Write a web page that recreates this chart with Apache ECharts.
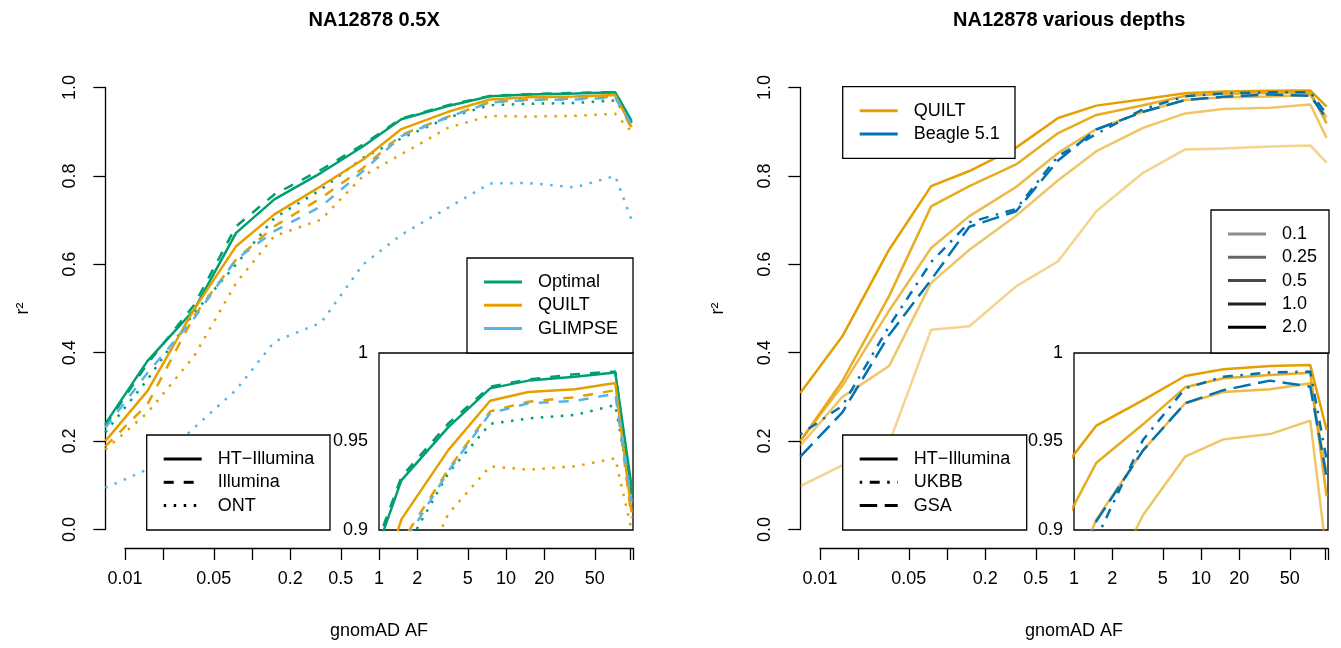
<!DOCTYPE html>
<html>
<head>
<meta charset="utf-8">
<title>NA12878 imputation accuracy</title>
<script src="https://cdn.jsdelivr.net/npm/echarts@6/dist/echarts.min.js"></script>
<style>
    html, body { margin: 0; padding: 0; background: #fff; }
    #main { width: 1341px; height: 648px; }
</style>
</head>
<body>
<div id="main"></div>
<script>
// AF bin midpoints (%), same bins in both panels
var afMid = [0.007, 0.015, 0.035, 0.075, 0.15, 0.35, 0.75, 1.5, 3.5, 7.5, 15, 35, 72.5, 97.5];
var afTicks = [0.01, 0.02, 0.05, 0.1, 0.2, 0.5, 1, 2, 5, 10, 20, 50, 95, 100];
var afLabels = [0.01, 0.05, 0.2, 0.5, 1, 2, 5, 10, 20, 50];

// left panel: NA12878 0.5X
var optimalHT       = [0.239, 0.381, 0.497, 0.671, 0.747, 0.807, 0.867, 0.928, 0.958, 0.980, 0.9844, 0.9866, 0.989, 0.9245];
var optimalIllumina = [0.235, 0.375, 0.508, 0.686, 0.758, 0.814, 0.871, 0.930, 0.960, 0.981, 0.985, 0.988, 0.9895, 0.920];
var optimalONT      = [0.220, 0.339, 0.490, 0.600, 0.705, 0.769, 0.841, 0.885, 0.932, 0.960, 0.963, 0.965, 0.9706, 0.920];
var quiltHT         = [0.200, 0.313, 0.498, 0.641, 0.713, 0.777, 0.837, 0.906, 0.945, 0.973, 0.978, 0.9795, 0.983, 0.910];
var quiltIllumina   = [0.188, 0.283, 0.483, 0.611, 0.686, 0.750, 0.818, 0.893, 0.934, 0.967, 0.9725, 0.975, 0.979, 0.907];
var quiltONT        = [0.181, 0.264, 0.392, 0.558, 0.664, 0.701, 0.800, 0.849, 0.909, 0.936, 0.934, 0.936, 0.9405, 0.900];
var glimpseIllumina = [0.230, 0.354, 0.478, 0.611, 0.675, 0.731, 0.811, 0.890, 0.933, 0.966, 0.9716, 0.973, 0.977, 0.916];
var glimpseONT      = [0.094, 0.136, 0.230, 0.316, 0.425, 0.468, 0.600, 0.667, 0.728, 0.783, 0.784, 0.774, 0.800, 0.700];

// right panel: QUILT HT-Illumina at each depth, Beagle 5.1 on arrays
var quiltD01  = [0.098, 0.145, 0.195, 0.452, 0.460, 0.550, 0.607, 0.720, 0.807, 0.860, 0.862, 0.8665, 0.869, 0.830];
var quiltD025 = [0.190, 0.300, 0.370, 0.558, 0.633, 0.710, 0.790, 0.856, 0.9085, 0.9414, 0.9512, 0.9542, 0.9618, 0.886];
var quiltD05  = [0.200, 0.325, 0.495, 0.637, 0.709, 0.775, 0.852, 0.906, 0.945, 0.9716, 0.978, 0.9795, 0.9829, 0.932];
var quiltD1   = [0.200, 0.336, 0.528, 0.731, 0.777, 0.826, 0.897, 0.938, 0.9597, 0.9806, 0.9857, 0.9876, 0.9889, 0.919];
var quiltD2   = [0.309, 0.437, 0.633, 0.777, 0.811, 0.864, 0.931, 0.959, 0.9734, 0.987, 0.9908, 0.9927, 0.9932, 0.9565];
var beagleUKBB = [0.215, 0.280, 0.460, 0.605, 0.695, 0.725, 0.845, 0.895, 0.951, 0.980, 0.9866, 0.989, 0.9895, 0.940];
var beagleGSA  = [0.165, 0.265, 0.440, 0.565, 0.685, 0.720, 0.835, 0.905, 0.945, 0.9716, 0.979, 0.9844, 0.981, 0.930];

var methodNames = ['Optimal', 'QUILT', 'GLIMPSE'];
var platformNames = ['HT\u2212Illumina', 'Illumina', 'ONT'];
var methodNames2 = ['QUILT', 'Beagle 5.1'];
var platformNames2 = ['HT\u2212Illumina', 'UKBB', 'GSA'];
var depthNames = ['0.1', '0.25', '0.5', '1.0', '2.0'];
var titles = ['NA12878 0.5X', 'NA12878 various depths'];

var FONT = '"Liberation Sans", Arial, Helvetica, sans-serif';
var GREEN = '#009E73', ORANGE = '#E69F00', SKY = '#56B4E9', BLUE = '#0072B2';
var SOLID = 'solid', DASHED = [10, 10], DOTTED = [2.5, 7.5], DOTDASH = [2.5, 7.5, 10, 7.5], LONGDASH = [17.5, 7.5];
var depthAlpha = [0.45, 0.6, 0.72, 0.88, 1];

// layout (px): position of AF 0.01 in the left panel, px per decade
var x01 = 125, decade = 127, offsets = [0, 695];
var xMin = Math.log10(0.007), xMax = 2;
var mainTop = 87.5, mainH = 442, axisY = 548, insetTop = 353, insetH = 177;

var chart = echarts.init(document.getElementById('main'));

var grids = [], xAxes = [], yAxes = [], series = [], graphics = [];
var axisLine = { show: true, onZero: false, lineStyle: { color: '#000', width: 1.3 } };
var labelStyle = { color: '#000', fontSize: 18, fontFamily: FONT };

function withLabel(obj) {
    return Object.assign({}, labelStyle, obj);
}

offsets.forEach(function (o, p) {
    // main plot area
    grids.push({ left: o + x01 + (xMin + 2) * decade, top: mainTop, width: (xMax - xMin) * decade, height: mainH, outerBoundsMode: 'none' });
    xAxes.push({ gridIndex: 3 * p, type: 'value', min: xMin, max: xMax, show: false });
    yAxes.push({
        gridIndex: 3 * p, type: 'value', min: 0, max: 1, interval: 0.2,
        axisLine: axisLine,
        axisTick: { show: true, length: 12, lineStyle: { color: '#000', width: 1.3 } },
        axisLabel: withLabel({ rotate: 90, margin: 26, formatter: function (v) { return v.toFixed(1); } }),
        splitLine: { show: false },
        name: 'r\u00B2', nameLocation: 'middle', nameRotate: 90, nameGap: 73,
        nameTextStyle: labelStyle
    });

    // detached log x axis, R style
    grids.push({ left: o + x01, top: mainTop, width: 4 * decade, height: axisY - mainTop, outerBoundsMode: 'none' });
    xAxes.push({
        gridIndex: 3 * p + 1, type: 'value', min: -2, max: 2,
        axisLine: axisLine,
        axisTick: { show: true, length: 12, customValues: afTicks.map(Math.log10), lineStyle: { color: '#000', width: 1.3 } },
        axisLabel: withLabel({
            margin: 22, customValues: afLabels.map(Math.log10),
            formatter: function (v) { return String(Number(Math.pow(10, v).toPrecision(6))); }
        }),
        splitLine: { show: false },
        name: 'gnomAD AF', nameLocation: 'middle', nameGap: 74, nameTextStyle: labelStyle
    });
    yAxes.push({ gridIndex: 3 * p + 1, type: 'value', min: 0, max: 1, show: false });

    // inset zoom: AF 1-100, r2 0.9-1
    grids.push({
        left: o + x01 + 2 * decade, top: insetTop, width: 2 * decade, height: insetH,
        show: true, backgroundColor: '#fff', borderColor: '#000', borderWidth: 1.3, outerBoundsMode: 'none'
    });
    xAxes.push({ gridIndex: 3 * p + 2, type: 'value', min: 0, max: 2, show: false });
    yAxes.push({
        gridIndex: 3 * p + 2, type: 'value', min: 0.9, max: 1, interval: 0.05,
        axisLine: { show: false, onZero: false }, axisTick: { show: false },
        axisLabel: withLabel({ margin: 11, formatter: function (v) { return String(Number(v.toFixed(2))); } }),
        splitLine: { show: false }
    });
});

function toXY(vals) {
    return vals.map(function (v, i) { return [Math.log10(afMid[i]), v]; });
}

// each curve goes in the main plot and in the inset
function addLine(p, vals, color, dash, alpha) {
    [0, 2].forEach(function (k) {
        series.push({
            type: 'line', xAxisIndex: 3 * p + k, yAxisIndex: 3 * p + k,
            data: toXY(vals), symbol: 'none', silent: true, animation: false,
            lineStyle: { color: color, width: 2.5, type: dash, opacity: alpha == null ? 1 : alpha, cap: 'butt' }
        });
    });
}

addLine(0, optimalHT, GREEN, SOLID);
addLine(0, optimalIllumina, GREEN, DASHED);
addLine(0, optimalONT, GREEN, DOTTED);
addLine(0, quiltHT, ORANGE, SOLID);
addLine(0, quiltIllumina, ORANGE, DASHED);
addLine(0, quiltONT, ORANGE, DOTTED);
addLine(0, glimpseIllumina, SKY, DASHED);
addLine(0, glimpseONT, SKY, DOTTED);

[quiltD01, quiltD025, quiltD05, quiltD1, quiltD2].forEach(function (vals, i) {
    addLine(1, vals, ORANGE, SOLID, depthAlpha[i]);
});
addLine(1, beagleUKBB, BLUE, DOTDASH);
addLine(1, beagleGSA, BLUE, LONGDASH);

// R-style legend boxes, drawn above the lines
function legendBox(x, y, w, h, items) {
    graphics.push({ type: 'rect', z: 100, shape: { x: x, y: y, width: w, height: h },
        style: { fill: '#fff', stroke: '#000', lineWidth: 1.3 } });
    items.forEach(function (it, i) {
        var cy = y + 24 + i * 23.3;
        graphics.push({ type: 'line', z: 101, shape: { x1: x + 17, y1: cy, x2: x + 55, y2: cy },
            style: { stroke: it.color, lineWidth: 3, lineDash: it.dash === SOLID ? null : it.dash, opacity: it.alpha == null ? 1 : it.alpha } });
        graphics.push({ type: 'text', z: 101, x: x + 71, y: cy,
            style: { text: it.label, fill: '#000', font: '18px ' + FONT, verticalAlign: 'middle' } });
    });
}

var leftColors = [GREEN, ORANGE, SKY];
legendBox(467, 258, 166, 95, methodNames.map(function (n, i) { return { label: n, color: leftColors[i], dash: SOLID }; }));
var leftDash = [SOLID, DASHED, DOTTED];
legendBox(146.7, 435, 183.3, 95, platformNames.map(function (n, i) { return { label: n, color: '#000', dash: leftDash[i] }; }));

var rightColors = [ORANGE, BLUE];
legendBox(842.7, 86.7, 172.3, 71.6, methodNames2.map(function (n, i) { return { label: n, color: rightColors[i], dash: SOLID }; }));
var rightDash = [SOLID, DOTDASH, LONGDASH];
legendBox(842.7, 435, 184, 95, platformNames2.map(function (n, i) { return { label: n, color: '#000', dash: rightDash[i] }; }));
legendBox(1211, 210, 118, 143, depthNames.map(function (n, i) { return { label: n, color: '#000', dash: SOLID, alpha: depthAlpha[i] }; }));

chart.setOption({
    backgroundColor: '#fff',
    animation: false,
    title: titles.map(function (t, p) {
        return {
            text: t, left: offsets[p] + x01 + (xMin + xMax + 4) * decade / 2, top: 5, textAlign: 'center',
            textStyle: { color: '#000', fontSize: 20, fontWeight: 'bold', fontFamily: FONT }
        };
    }),
    grid: grids,
    xAxis: xAxes,
    yAxis: yAxes,
    series: series,
    graphic: { elements: graphics }
});
</script>
</body>
</html>
